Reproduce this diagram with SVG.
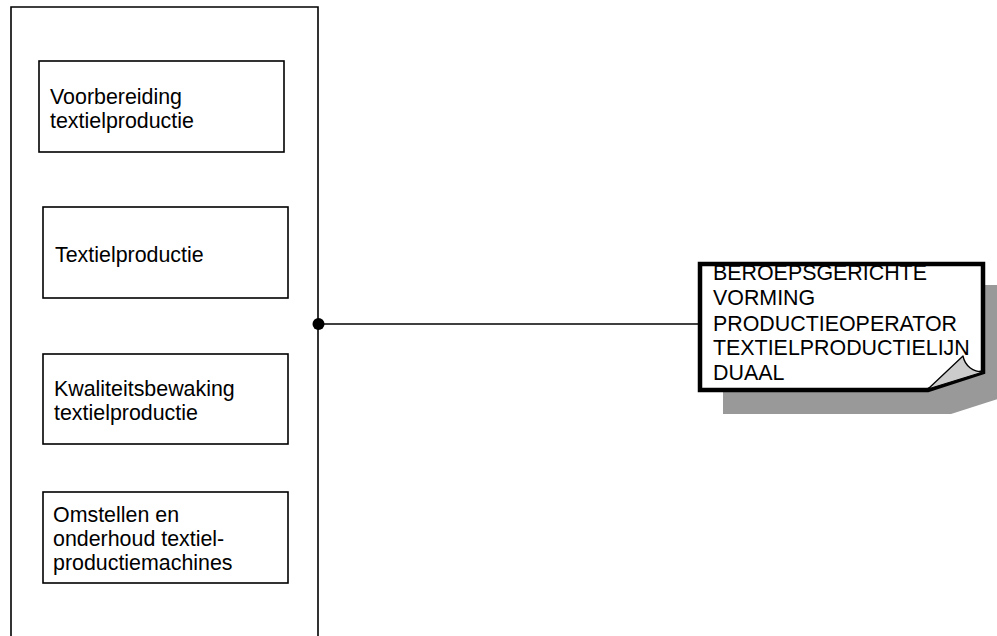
<svg xmlns="http://www.w3.org/2000/svg" width="997" height="636" viewBox="0 0 997 636">
<style>
.box{fill:#fff;stroke:#000;stroke-width:1.6}
.t{font-family:"Liberation Sans",Arial,sans-serif;font-size:21.4px;fill:#000}
.ln{stroke:#000;stroke-width:1.6;fill:none}
</style>
<rect width="997" height="636" fill="#fff"/>
<g id="container">
<path class="ln" d="M11,645 V7 H318 V645" stroke-width="2"/>
</g>
<g id="n1">
<rect class="box" x="39" y="61" width="245" height="91"/>
<text class="t" x="50" y="104">Voorbereiding</text>
<text class="t" x="50" y="128">textielproductie</text>
</g>
<g id="n2">
<rect class="box" x="43" y="207" width="245" height="91"/>
<text class="t" x="55" y="262">Textielproductie</text>
</g>
<g id="n3">
<rect class="box" x="43" y="354" width="245" height="90"/>
<text class="t" x="54" y="396">Kwaliteitsbewaking</text>
<text class="t" x="54" y="420">textielproductie</text>
</g>
<g id="n4">
<rect class="box" x="43" y="492" width="245" height="91"/>
<text class="t" x="53" y="522">Omstellen en</text>
<text class="t" x="53" y="546">onderhoud textiel-</text>
<text class="t" x="53" y="570">productiemachines</text>
</g>
<g id="connectors">
<line class="ln" x1="318" y1="324" x2="700" y2="324"/>
<circle cx="318.5" cy="324" r="6" fill="#000"/>
</g>
<g id="note">
<path d="M723,285 H1010 V395 L951,414 H723 Z" fill="#999"/>
<path d="M700,264 H983 V372 L928,390 H700 Z" fill="#fff" stroke="#000" stroke-width="4.5" stroke-linejoin="miter"/>
<path d="M928,389 L963,356 C965,366 973,372 983,372 Z" fill="#ccc" stroke="#000" stroke-width="1.3" stroke-linejoin="round"/>
<text class="t" x="713" y="280">BEROEPSGERICHTE</text>
<text class="t" x="713" y="305">VORMING</text>
<text class="t" x="713" y="331">PRODUCTIEOPERATOR</text>
<text class="t" x="713" y="355">TEXTIELPRODUCTIELIJN</text>
<text class="t" x="713" y="380">DUAAL</text>
</g>
</svg>
